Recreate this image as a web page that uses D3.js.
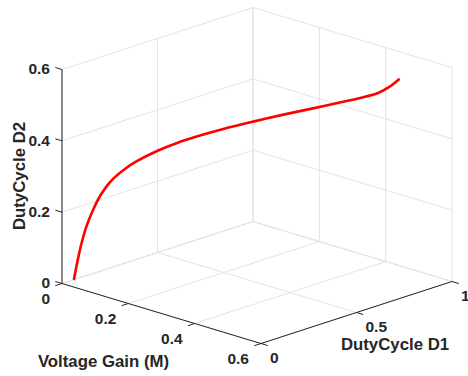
<!DOCTYPE html>
<html>
<head>
<meta charset="utf-8">
<script src="https://cdn.jsdelivr.net/npm/d3@7"></script>
<style>
  body { margin: 0; background: #fff; }
  text { font-family: "Liberation Sans", Arial, sans-serif; font-weight: bold; fill: #262626; }
</style>
</head>
<body>
<svg id="canvas" width="468" height="376"></svg>
<script>
// axis ticks
const xTicks = [0, 0.2, 0.4, 0.6];   // Voltage Gain (M)
const yTicks = [0, 0.5, 1];          // DutyCycle D1
const zTicks = [0, 0.2, 0.4, 0.6];   // DutyCycle D2

// curve
const gainM = [0.000, 0.005, 0.009, 0.015, 0.024, 0.033, 0.046, 0.066, 0.081, 0.108, 0.135,
               0.168, 0.200, 0.244, 0.291, 0.333, 0.371, 0.415, 0.447, 0.472, 0.499];
const dutyD1 = [0.063, 0.077, 0.088, 0.103, 0.122, 0.142, 0.173, 0.218, 0.251, 0.310, 0.368,
                0.435, 0.497, 0.577, 0.660, 0.729, 0.786, 0.846, 0.882, 0.894, 0.897];
const dutyD2 = [0.002, 0.062, 0.103, 0.148, 0.193, 0.230, 0.268, 0.303, 0.322, 0.348, 0.368,
                0.387, 0.403, 0.422, 0.441, 0.457, 0.472, 0.490, 0.507, 0.528, 0.556];

let canvas = d3.select("#canvas");

// 3d box projection (view like matlab default az -37.5, el 30)
const origin = [62, 283.5];
const ex = [199, 60];
const ey = [191, -62];
const ez = [0, -214];

const xScale = d3.scaleLinear().domain([0, 0.6]).range([0, 1]);
const yScale = d3.scaleLinear().domain([0, 1]).range([0, 1]);
const zScale = d3.scaleLinear().domain([0, 0.6]).range([0, 1]);

const proj = (x, y, z) => {
  let a = xScale(x), b = yScale(y), c = zScale(z);
  return [
    origin[0] + a * ex[0] + b * ey[0] + c * ez[0],
    origin[1] + a * ex[1] + b * ey[1] + c * ez[1],
  ];
};

const seg = (p, q) => "M" + p[0] + "," + p[1] + "L" + q[0] + "," + q[1];

// grid lines on the back walls and floor
let gridSegs = [];
yTicks.forEach((y) => gridSegs.push([proj(0, y, 0), proj(0, y, 0.6)]));
zTicks.forEach((z) => gridSegs.push([proj(0, 0, z), proj(0, 1, z)]));
xTicks.forEach((x) => gridSegs.push([proj(x, 1, 0), proj(x, 1, 0.6)]));
zTicks.forEach((z) => gridSegs.push([proj(0, 1, z), proj(0.6, 1, z)]));
xTicks.forEach((x) => gridSegs.push([proj(x, 0, 0), proj(x, 1, 0)]));
yTicks.forEach((y) => gridSegs.push([proj(0, y, 0), proj(0.6, y, 0)]));

canvas
  .append("g")
  .selectAll("path")
  .data(gridSegs)
  .enter()
  .append("path")
  .attr("d", (s) => seg(s[0], s[1]))
  .attr("stroke", "#e3e3e3")
  .attr("stroke-width", 1)
  .attr("fill", "none");

// axis lines
const axisColor = "#262626";
const axes = canvas.append("g").attr("stroke", axisColor).attr("stroke-width", 1).attr("fill", "none");
axes.append("path").attr("d", seg(proj(0, 0, 0), proj(0, 0, 0.6)));
axes.append("path").attr("d", seg(proj(0, 0, 0), proj(0.6, 0, 0)));
axes.append("path").attr("d", seg(proj(0.6, 0, 0), proj(0.6, 1, 0)));

// tick marks
const tickLen = 7;
const unit = (v) => {
  let l = Math.hypot(v[0], v[1]);
  return [v[0] / l, v[1] / l];
};
const tickMark = (p, dir) => seg(p, [p[0] + dir[0] * tickLen, p[1] + dir[1] * tickLen]);
const ux = unit(ex), uy = unit(ey);

zTicks.forEach((z) => axes.append("path").attr("d", tickMark(proj(0, 0, z), [-ux[0], -ux[1]])));
xTicks.forEach((x) => axes.append("path").attr("d", tickMark(proj(x, 0, 0), [-uy[0], -uy[1]])));
yTicks.forEach((y) => axes.append("path").attr("d", tickMark(proj(0.6, y, 0), ux)));

// tick labels
const tickSize = "15.5px";
canvas
  .append("g")
  .selectAll("text")
  .data(zTicks)
  .enter()
  .append("text")
  .attr("x", (z) => proj(0, 0, z)[0] - 12)
  .attr("y", (z) => proj(0, 0, z)[1] - 0.5)
  .attr("dy", "0.35em")
  .attr("text-anchor", "end")
  .style("font-size", tickSize)
  .text((z) => String(z));

canvas
  .append("g")
  .selectAll("text")
  .data(xTicks)
  .enter()
  .append("text")
  .attr("x", (x) => proj(x, 0, 0)[0] - 12)
  .attr("y", (x) => proj(x, 0, 0)[1] + 15)
  .attr("dy", "0.35em")
  .attr("text-anchor", "end")
  .style("font-size", tickSize)
  .text((x) => String(x));

canvas
  .append("g")
  .selectAll("text")
  .data(yTicks)
  .enter()
  .append("text")
  .attr("x", (y) => proj(0.6, y, 0)[0] + 9)
  .attr("y", (y) => proj(0.6, y, 0)[1] + 14.5)
  .attr("dy", "0.35em")
  .attr("text-anchor", "start")
  .style("font-size", tickSize)
  .text((y) => String(y));

// axis labels
const labelSize = "16.8px";
canvas.append("text")
  .attr("x", 103.5).attr("y", 367)
  .attr("text-anchor", "middle")
  .style("font-size", labelSize)
  .text("Voltage Gain (M)");

canvas.append("text")
  .attr("x", 395).attr("y", 350)
  .attr("text-anchor", "middle")
  .style("font-size", labelSize)
  .text("DutyCycle D1");

canvas.append("text")
  .attr("transform", "translate(24.5,176) rotate(-90)")
  .attr("text-anchor", "middle")
  .style("font-size", labelSize)
  .text("DutyCycle D2");

// the curve
const curvePts = gainM.map((m, i) => proj(m, dutyD1[i], dutyD2[i]));

canvas
  .append("path")
  .datum(curvePts)
  .attr("d", d3.line().curve(d3.curveCatmullRom.alpha(0.5)))
  .attr("stroke", "#ff0000")
  .attr("stroke-width", 2.6)
  .attr("stroke-linecap", "round")
  .attr("fill", "none");
</script>
</body>
</html>
